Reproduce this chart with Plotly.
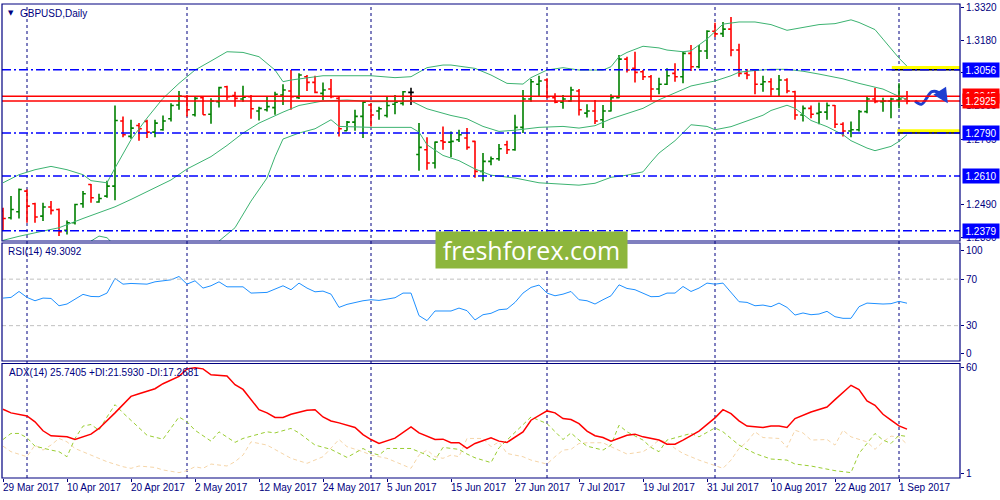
import pandas as pd
import plotly.graph_objects as go

# trading days shown on the chart (one bar per weekday)
dates = pd.bdate_range("2017-03-29", "2017-09-04")
bars = list(range(len(dates)))

opens = [1.2462, 1.2434, 1.2459, 1.2546, 1.2493, 1.2441, 1.2479, 1.2469, 1.2381, 1.2413,
         1.2493, 1.2574, 1.2500, 1.2525, 1.2567, 1.2841, 1.2776, 1.2822, 1.2839, 1.2794,
         1.2804, 1.2850, 1.2908, 1.2943, 1.2867, 1.2939, 1.2869, 1.2922, 1.2985, 1.2948,
         1.2933, 1.2943, 1.2883, 1.2888, 1.2897, 1.2950, 1.2967, 1.2939, 1.3027, 1.3003,
         1.2957, 1.2975, 1.2936, 1.2800, 1.2836, 1.2860, 1.2908, 1.2883, 1.2864, 1.2911,
         1.2915, 1.2961, 1.2700, 1.2720, 1.2664, 1.2758, 1.2752, 1.2762, 1.2769, 1.2755,
         1.2629, 1.2671, 1.2682, 1.2741, 1.2720, 1.2814, 1.2933, 1.2995, 1.3013, 1.2939,
         1.2920, 1.2925, 1.2967, 1.2874, 1.2883, 1.2846, 1.2883, 1.2939, 1.3101, 1.3062,
         1.3048, 1.3027, 1.2975, 1.2995, 1.3041, 1.3027, 1.3125, 1.3069, 1.3135, 1.3218,
         1.3208, 1.3227, 1.3139, 1.3041, 1.3055, 1.2995, 1.3006, 1.2975, 1.3013, 1.2964,
         1.2866, 1.2894, 1.2873, 1.2878, 1.2906, 1.2827, 1.2799, 1.2804, 1.2880, 1.2933,
         1.2922, 1.2925, 1.2929, 1.2933]
highs = [1.2476, 1.2525, 1.2557, 1.2553, 1.2497, 1.2497, 1.2504, 1.2473, 1.2423, 1.2493,
         1.2546, 1.2576, 1.2535, 1.2590, 1.2906, 1.2860, 1.2846, 1.2832, 1.2846, 1.2846,
         1.2864, 1.2915, 1.2967, 1.2950, 1.2943, 1.2943, 1.2936, 1.2985, 1.2989, 1.2964,
         1.2989, 1.2950, 1.2901, 1.2943, 1.2964, 1.2995, 1.3055, 1.3041, 1.3034, 1.3031,
         1.3003, 1.3017, 1.2943, 1.2841, 1.2888, 1.2922, 1.2915, 1.2901, 1.2943, 1.2950,
         1.2967, 1.2981, 1.2832, 1.2772, 1.2755, 1.2818, 1.2797, 1.2804, 1.2811, 1.2758,
         1.2706, 1.2692, 1.2744, 1.2758, 1.2867, 1.2971, 1.3017, 1.3031, 1.3020, 1.2957,
         1.2950, 1.2985, 1.2975, 1.2911, 1.2929, 1.2908, 1.2953, 1.3118, 1.3111, 1.3132,
         1.3055, 1.3034, 1.3023, 1.3062, 1.3083, 1.3132, 1.3160, 1.3160, 1.3222, 1.3254,
         1.3257, 1.3278, 1.3166, 1.3059, 1.3059, 1.3031, 1.3020, 1.3034, 1.3020, 1.2968,
         1.2906, 1.2906, 1.2919, 1.2919, 1.2908, 1.2836, 1.2839, 1.2887, 1.2943, 1.2981,
         1.2939, 1.2939, 1.2999, 1.2967]
lows = [1.2378, 1.2427, 1.2431, 1.2413, 1.2413, 1.2420, 1.2448, 1.2357, 1.2364, 1.2406,
        1.2476, 1.2497, 1.2497, 1.2518, 1.2508, 1.2772, 1.2766, 1.2758, 1.2769, 1.2772,
        1.2800, 1.2839, 1.2888, 1.2860, 1.2860, 1.2867, 1.2829, 1.2897, 1.2929, 1.2901,
        1.2922, 1.2850, 1.2843, 1.2881, 1.2867, 1.2908, 1.2888, 1.2933, 1.2967, 1.2957,
        1.2929, 1.2936, 1.2776, 1.2800, 1.2800, 1.2769, 1.2818, 1.2846, 1.2855, 1.2869,
        1.2906, 1.2908, 1.2632, 1.2636, 1.2641, 1.2720, 1.2688, 1.2752, 1.2720, 1.2602,
        1.2588, 1.2655, 1.2674, 1.2702, 1.2716, 1.2790, 1.2922, 1.2943, 1.2936, 1.2915,
        1.2892, 1.2922, 1.2864, 1.2855, 1.2828, 1.2811, 1.2881, 1.2936, 1.3045, 1.3003,
        1.3013, 1.2929, 1.2953, 1.2992, 1.3006, 1.2999, 1.3051, 1.3062, 1.3101, 1.3194,
        1.3194, 1.3113, 1.3027, 1.3016, 1.2953, 1.2964, 1.2947, 1.2943, 1.2957, 1.2846,
        1.2839, 1.2852, 1.2827, 1.2846, 1.2811, 1.2776, 1.2772, 1.2797, 1.2873, 1.2915,
        1.2880, 1.2852, 1.2894, 1.2911]
closes = [1.2431, 1.2469, 1.2553, 1.2483, 1.2437, 1.2479, 1.2465, 1.2375, 1.2413, 1.2490,
          1.2535, 1.2518, 1.2515, 1.2567, 1.2843, 1.2783, 1.2811, 1.2808, 1.2794, 1.2832,
          1.2841, 1.2906, 1.2946, 1.2888, 1.2936, 1.2867, 1.2925, 1.2981, 1.2943, 1.2936,
          1.2941, 1.2892, 1.2894, 1.2901, 1.2953, 1.2971, 1.2943, 1.3034, 1.3003, 1.2961,
          1.2971, 1.2943, 1.2808, 1.2836, 1.2860, 1.2920, 1.2866, 1.2892, 1.2906, 1.2920,
          1.2964, 1.2961, 1.2730, 1.2664, 1.2752, 1.2752, 1.2755, 1.2783, 1.2730, 1.2629,
          1.2671, 1.2682, 1.2724, 1.2720, 1.2814, 1.2933, 1.3006, 1.3009, 1.2943, 1.2920,
          1.2933, 1.2971, 1.2888, 1.2883, 1.2841, 1.2883, 1.2939, 1.3101, 1.3055, 1.3045,
          1.3027, 1.2975, 1.2995, 1.3031, 1.3027, 1.3125, 1.3069, 1.3135, 1.3218, 1.3207,
          1.3227, 1.3139, 1.3041, 1.3034, 1.2995, 1.3006, 1.2975, 1.3013, 1.2967, 1.2866,
          1.2894, 1.2869, 1.2878, 1.2906, 1.2827, 1.2799, 1.2804, 1.2880, 1.2933, 1.2922,
          1.2925, 1.2933, 1.2933, 1.2925]

# Bollinger bands (20)
bb_up_idx = [0, 2, 4, 6, 8, 10, 11, 13, 14, 16, 18, 20, 22, 24, 26, 28, 30, 32, 34, 35, 36, 38, 40,
             43, 46, 49, 51, 53, 55, 56, 59, 61, 63, 65, 66, 68, 70, 72, 75, 76, 77, 78, 80, 82, 83,
             85, 86, 88, 90, 92, 94, 96, 98, 100, 102, 104, 106, 107, 109, 110, 111, 112, 113]
bb_up = [1.2581, 1.2615, 1.2636, 1.2650, 1.2636, 1.2615, 1.2590, 1.2581, 1.2643, 1.2762, 1.2853,
         1.2936, 1.2999, 1.3055, 1.3093, 1.3132, 1.3129, 1.3111, 1.3055, 1.3006, 1.3013, 1.3023,
         1.3031, 1.3031, 1.3031, 1.3023, 1.3027, 1.3065, 1.3076, 1.3076, 1.3062, 1.3034, 1.2999,
         1.2996, 1.3023, 1.3055, 1.3065, 1.3055, 1.3055, 1.3069, 1.3111, 1.3129, 1.3155, 1.3148,
         1.3139, 1.3132, 1.3136, 1.3185, 1.3248, 1.3257, 1.3257, 1.3246, 1.3222, 1.3234, 1.3246,
         1.3250, 1.3266, 1.3255, 1.3225, 1.3185, 1.3145, 1.3105, 1.3071]
bb_mid_idx = [0, 2, 5, 7, 10, 12, 14, 16, 18, 21, 23, 26, 28, 30, 32, 33, 35, 37, 40, 43, 46, 49,
              51, 53, 56, 58, 60, 62, 64, 67, 70, 72, 74, 76, 78, 80, 82, 84, 86, 87, 89, 91, 92,
              94, 96, 98, 100, 102, 105, 107, 109, 110, 112, 113]
bb_mid = [1.2339, 1.2356, 1.2378, 1.2392, 1.2431, 1.2456, 1.2480, 1.2511, 1.2543, 1.2593, 1.2639,
          1.2691, 1.2738, 1.2790, 1.2832, 1.2848, 1.2878, 1.2906, 1.2925, 1.2929, 1.2922, 1.2922,
          1.2925, 1.2892, 1.2864, 1.2850, 1.2818, 1.2797, 1.2802, 1.2814, 1.2818, 1.2811, 1.2821,
          1.2850, 1.2872, 1.2894, 1.2930, 1.2960, 1.2988, 1.2995, 1.3009, 1.3031, 1.3046, 1.3053,
          1.3058, 1.3058, 1.3050, 1.3038, 1.3018, 1.2999, 1.2982, 1.2975, 1.2944, 1.2932]
bb_low_idx = [0, 3, 6, 8, 10, 11, 12, 13, 14, 17, 20, 23, 26, 27, 29, 31, 33, 34, 35, 37, 39, 41,
              42, 46, 51, 52, 53, 55, 57, 59, 61, 64, 67, 70, 72, 74, 76, 78, 80, 81, 82, 84, 85,
              86, 88, 89, 91, 93, 95, 96, 98, 99, 101, 103, 105, 106, 108, 109, 111, 112, 113]
bb_low = [1.2097, 1.2090, 1.2105, 1.2150, 1.2250, 1.2336, 1.2357, 1.2350, 1.2317, 1.2255, 1.2245,
          1.2251, 1.2289, 1.2336, 1.2392, 1.2504, 1.2601, 1.2690, 1.2765, 1.2790, 1.2808, 1.2846,
          1.2818, 1.2814, 1.2814, 1.2794, 1.2741, 1.2696, 1.2674, 1.2639, 1.2613, 1.2601, 1.2581,
          1.2576, 1.2571, 1.2579, 1.2604, 1.2613, 1.2627, 1.2668, 1.2706, 1.2758, 1.2790, 1.2825,
          1.2818, 1.2804, 1.2817, 1.2841, 1.2865, 1.2885, 1.2907, 1.2894, 1.2843, 1.2817, 1.2783,
          1.2758, 1.2727, 1.2716, 1.2734, 1.2755, 1.2783]

# RSI(14)
rsi_idx = [0, 1, 2, 3, 4, 5, 6, 7, 8, 9, 10, 11, 12, 13, 14, 15, 16, 18, 19, 21, 22, 23, 24, 25,
           26, 27, 28, 30, 31, 33, 34, 35, 36, 37, 38, 39, 40, 41, 42, 43, 45, 46, 47, 49, 50, 51,
           52, 53, 54, 56, 57, 58, 59, 60, 61, 62, 63, 64, 65, 66, 67, 68, 69, 70, 71, 72, 73, 74,
           75, 76, 77, 78, 79, 80, 81, 82, 83, 84, 85, 86, 87, 88, 89, 90, 91, 92, 93, 94, 95, 96,
           97, 98, 99, 100, 101, 102, 103, 104, 105, 106, 107, 108, 110, 111, 112, 113]
rsi_val = [53.7, 54.3, 59.4, 54.3, 51.4, 53.7, 53.4, 47.1, 48.6, 52.9, 56.9, 55.1, 54.9, 58.0,
           70.6, 65.7, 66.3, 65.7, 67.7, 69.4, 72.3, 65.7, 68.6, 62.3, 64.3, 67.7, 63.4, 63.4,
           58.0, 58.6, 61.4, 64.3, 60.9, 66.6, 62.3, 59.1, 59.7, 57.1, 45.7, 48.3, 51.4, 52.3,
           51.7, 54.0, 58.0, 58.0, 38.6, 34.3, 42.6, 42.6, 45.1, 42.9, 34.9, 39.4, 40.6, 43.7,
           44.3, 50.0, 58.0, 62.9, 64.9, 58.0, 55.7, 57.1, 59.4, 52.3, 51.4, 48.6, 52.3, 55.7,
           65.1, 62.0, 60.9, 58.0, 54.9, 55.1, 58.0, 58.0, 63.7, 59.4, 62.3, 66.6, 65.7, 66.6,
           58.6, 50.6, 50.0, 47.1, 47.7, 46.3, 49.4, 45.7, 39.1, 40.9, 39.4, 40.0, 42.3, 37.7,
           36.3, 36.3, 46.3, 49.4, 48.6, 48.9, 50.9, 49.3]

# ADX(14), +DI, -DI
adx_idx = [0, 1, 3, 4, 5, 6, 8, 9, 11, 12, 14, 16, 17, 19, 20, 22, 23, 24, 25, 26, 28, 29, 30, 32,
           33, 34, 35, 36, 38, 39, 40, 41, 42, 44, 45, 46, 47, 49, 51, 52, 54, 55, 56, 57, 58, 59,
           61, 62, 63, 65, 66, 68, 69, 70, 71, 72, 73, 74, 75, 76, 78, 79, 80, 82, 83, 84, 85, 87,
           89, 90, 91, 92, 93, 95, 96, 97, 98, 99, 101, 103, 104, 106, 107, 108, 109, 110, 111,
           112, 113]
adx_val = [36.8, 34.8, 33.1, 29.8, 24.8, 22.0, 21.4, 19.9, 22.9, 26.1, 34.8, 44.0, 45.5, 48.3,
           51.1, 55.2, 59.4, 60.0, 59.4, 56.1, 55.4, 50.5, 47.9, 36.6, 34.8, 32.2, 32.2, 34.0,
           36.3, 36.6, 32.5, 30.3, 29.2, 26.6, 22.7, 19.9, 17.7, 20.7, 27.0, 23.6, 19.9, 20.1,
           18.1, 18.1, 14.9, 17.7, 20.9, 19.0, 18.3, 24.2, 30.7, 35.9, 34.8, 31.6, 31.1, 28.8,
           24.6, 22.0, 21.0, 19.0, 22.3, 22.9, 21.4, 19.6, 17.3, 17.3, 19.6, 24.6, 32.0, 36.6,
           34.4, 30.3, 27.4, 26.6, 27.5, 27.4, 26.6, 31.6, 35.3, 38.1, 42.2, 50.2, 47.8, 41.5,
           39.0, 34.0, 30.7, 27.5, 25.7]
pdi_idx = [0, 1, 2, 3, 4, 5, 6, 7, 8, 9, 10, 11, 12, 13, 14, 15, 17, 18, 20, 21, 22, 23, 24, 26,
           27, 29, 30, 33, 34, 36, 37, 39, 41, 43, 45, 46, 47, 48, 51, 53, 54, 55, 57, 58, 59, 61,
           62, 63, 65, 66, 68, 69, 70, 71, 72, 73, 75, 76, 77, 78, 80, 81, 82, 83, 85, 86, 87, 89,
           90, 91, 92, 94, 96, 98, 99, 101, 103, 104, 106, 107, 108, 109, 110, 111, 112, 113]
pdi_val = [19.9, 23.3, 23.3, 20.9, 16.2, 14.9, 14.0, 13.1, 10.3, 20.5, 27.4, 28.3, 25.1, 32.5,
           39.4, 34.8, 26.1, 22.3, 20.1, 26.1, 32.5, 29.8, 25.1, 19.0, 24.2, 18.3, 20.5, 24.2,
           23.6, 26.1, 23.6, 16.8, 14.4, 9.9, 14.9, 12.5, 11.2, 14.9, 14.9, 11.2, 8.4, 15.5, 14.4,
           11.8, 9.7, 7.0, 15.3, 19.6, 27.9, 32.5, 28.8, 24.2, 19.9, 23.6, 19.6, 16.2, 14.0, 16.8,
           27.9, 24.2, 19.6, 15.5, 13.1, 19.6, 22.3, 23.3, 21.4, 26.4, 24.2, 20.5, 16.8, 12.1,
           9.0, 8.4, 6.2, 5.1, 3.2, 2.5, 1.4, 12.1, 17.7, 23.3, 19.6, 17.7, 22.3, 21.6]
mdi_idx = [0, 1, 3, 4, 5, 6, 7, 8, 9, 11, 13, 15, 16, 17, 19, 20, 22, 23, 24, 25, 26, 28, 29, 30,
           31, 33, 35, 36, 38, 39, 40, 42, 43, 45, 46, 48, 50, 51, 52, 53, 54, 55, 56, 57, 58, 60,
           61, 62, 63, 65, 66, 68, 69, 70, 71, 72, 73, 75, 76, 77, 78, 80, 81, 82, 83, 84, 85, 87,
           89, 90, 91, 92, 93, 94, 95, 97, 98, 99, 100, 101, 103, 104, 105, 106, 108, 109, 110,
           111, 112, 113]
mdi_val = [16.2, 13.1, 10.3, 16.8, 14.0, 16.8, 20.5, 18.6, 14.9, 11.2, 7.5, 4.7, 3.8, 5.1, 4.3,
           2.9, 1.4, 2.5, 4.7, 3.8, 6.2, 5.1, 7.5, 11.2, 18.6, 16.8, 12.1, 9.4, 6.6, 8.4, 10.3,
           19.9, 15.9, 13.1, 11.2, 9.4, 5.6, 3.8, 11.2, 14.0, 10.3, 9.4, 11.2, 10.3, 20.5, 20.5,
           15.9, 18.6, 12.1, 10.3, 8.4, 6.2, 10.3, 14.0, 14.4, 17.7, 18.1, 18.1, 15.9, 14.0, 11.8,
           13.1, 15.9, 19.6, 18.6, 14.9, 12.1, 8.4, 5.6, 3.8, 8.4, 14.9, 18.6, 24.2, 21.0, 20.5,
           15.5, 25.1, 23.6, 19.6, 19.9, 16.8, 25.1, 21.4, 18.6, 14.4, 18.6, 21.8, 21.4, 17.3]

# horizontal levels drawn on the chart
blue_levels = [1.3056, 1.2790, 1.2610, 1.2379]
red_levels = [1.2945, 1.2925]
yellow_levels = [1.3056, 1.2790]
yellow_start = [111.1, 111.8]
price_ticks = [1.3320, 1.3180, 1.3045, 1.2905, 1.2765, 1.2490, 1.2350]

# hand drawn forecast arrow
arrow_x = [114.0, 114.8, 116.1, 116.9, 117.7]
arrow_y = [1.2925, 1.2911, 1.2964, 1.2961, 1.2928]

NAVY = "#000080"
FONT = "Liberation Sans"
XMAX = 119.625

fig = go.Figure()

normal = [i for i in bars if opens[i] != closes[i]]
doji = [i for i in bars if opens[i] == closes[i]]
fig.add_trace(go.Ohlc(
    x=normal, open=[opens[i] for i in normal], high=[highs[i] for i in normal],
    low=[lows[i] for i in normal], close=[closes[i] for i in normal],
    increasing_line_color="#008000", decreasing_line_color="#FF0000",
    line_width=1.6, tickwidth=0.35, hoverinfo="skip"))
fig.add_trace(go.Ohlc(
    x=doji, open=[opens[i] for i in doji], high=[highs[i] for i in doji],
    low=[lows[i] for i in doji], close=[closes[i] for i in doji],
    increasing_line_color="black", decreasing_line_color="black",
    line_width=1.6, tickwidth=0.35, hoverinfo="skip"))

for xs, ys in [(bb_up_idx, bb_up), (bb_mid_idx, bb_mid), (bb_low_idx, bb_low)]:
    fig.add_trace(go.Scatter(x=xs, y=ys, mode="lines", line=dict(color="#3CB371", width=1)))

fig.add_trace(go.Scatter(x=arrow_x, y=arrow_y, mode="lines",
                         line=dict(color="#1F3FD0", width=3, shape="spline")))

fig.add_trace(go.Scatter(x=rsi_idx, y=rsi_val, yaxis="y2", mode="lines",
                         line=dict(color="#1E90FF", width=1)))

fig.add_trace(go.Scatter(x=mdi_idx, y=mdi_val, yaxis="y3", mode="lines",
                         line=dict(color="#F5D5A8", width=1, dash="4px,3px")))
fig.add_trace(go.Scatter(x=pdi_idx, y=pdi_val, yaxis="y3", mode="lines",
                         line=dict(color="#9ACD32", width=1, dash="4px,3px")))
fig.add_trace(go.Scatter(x=adx_idx, y=adx_val, yaxis="y3", mode="lines",
                         line=dict(color="#FF0000", width=1.5)))

shapes = []
# month separators
month_starts = [i for i in bars[1:] if dates[i].month != dates[i - 1].month]
for i in month_starts:
    shapes.append(dict(type="line", xref="x", yref="paper", x0=i, x1=i, y0=0, y1=1,
                       line=dict(color=NAVY, width=1, dash="3px,3px"), layer="below"))
for lv, xs in zip(yellow_levels, yellow_start):
    shapes.append(dict(type="rect", xref="x", yref="y", x0=xs, x1=XMAX, y0=lv, y1=lv + 0.0016,
                       fillcolor="#FFFF00", line=dict(width=0)))
    shapes.append(dict(type="line", xref="x", yref="y", x0=xs, x1=XMAX, y0=lv, y1=lv,
                       line=dict(color="black", width=1.5)))
for lv in blue_levels:
    shapes.append(dict(type="line", xref="x domain", yref="y", x0=0, x1=1, y0=lv, y1=lv,
                       line=dict(color="#0000FF", width=1.5, dash="9px,3px,2px,3px")))
for lv in red_levels:
    shapes.append(dict(type="line", xref="x domain", yref="y", x0=0, x1=1, y0=lv, y1=lv,
                       line=dict(color="#FF0000", width=1.5)))
for lv in [70, 30]:
    shapes.append(dict(type="line", xref="x domain", yref="y2", x0=0, x1=1, y0=lv, y1=lv,
                       line=dict(color="#C0C0C0", width=1, dash="4px,3px")))
# panel frames
for ax in ["y", "y2", "y3"]:
    shapes.append(dict(type="rect", xref="paper", yref=ax + " domain", x0=0, x1=1, y0=0, y1=1,
                       line=dict(color=NAVY, width=1.2)))

ann = []
ann.append(dict(text="▼", x=0.004, y=0.981, xref="paper", yref="paper", showarrow=False,
                xanchor="left", yanchor="middle", font=dict(family="DejaVu Sans", size=7, color=NAVY)))
ann.append(dict(text="GBPUSD,Daily", x=0.017, y=0.981, xref="paper", yref="paper", showarrow=False,
                xanchor="left", yanchor="middle", font=dict(family=FONT, size=10, color=NAVY)))
ann.append(dict(text="RSI(14) 49.3092", x=0.004, y=0.477, xref="paper", yref="paper",
                showarrow=False, xanchor="left", yanchor="middle",
                font=dict(family=FONT, size=10, color=NAVY)))
ann.append(dict(text="ADX(14) 25.7405 +DI:21.5930 -DI:17.2681", x=0.005, y=0.2227, xref="paper",
                yref="paper", showarrow=False, xanchor="left", yanchor="middle",
                font=dict(family=FONT, size=10, color=NAVY)))
ann.append(dict(text="freshforex.com", x=0.5527, y=0.480, xref="paper", yref="paper",
                showarrow=False, xanchor="center", yanchor="middle", bgcolor="#8DB63C",
                width=189, height=34, font=dict(family="Open Sans", size=25, color="white")))

# right side price boxes
boxes = [(1.3056, "#0000FF"), (1.2945, "#FF0000"), (1.2925, "#FF0000"),
         (1.2790, "#0000FF"), (1.2610, "#0000FF"), (1.2379, "#0000FF")]
for lv, col in boxes:
    ann.append(dict(text=f"{lv:.4f}", x=1.0021, y=lv, xref="paper", yref="y", showarrow=False,
                    xanchor="left", yanchor="middle", bgcolor=col, width=34, height=12,
                    borderpad=1, font=dict(family=FONT, size=10, color="white")))

# date labels
for i in bars[::8]:
    d = dates[i]
    ann.append(dict(text=f"{d.day} {d.strftime('%b %Y')}", x=i, y=-0.021, xref="x",
                    yref="paper", showarrow=False, xanchor="left", yanchor="middle", xshift=-2,
                    font=dict(family=FONT, size=10, color=NAVY)))

# arrow head of the forecast curve
ann.append(dict(x=118.1, y=1.2915, ax=arrow_x[-1], ay=arrow_y[-1] + 0.0008, xref="x", yref="y",
                axref="x", ayref="y", showarrow=True, arrowhead=2, arrowsize=1, arrowwidth=3,
                arrowcolor="#1F3FD0", text=""))

axis_font = dict(family=FONT, size=10, color=NAVY)
fig.update_layout(
    width=1000, height=500,
    margin=dict(l=2, r=40, t=2, b=22),
    paper_bgcolor="white", plot_bgcolor="white",
    showlegend=False,
    xaxis=dict(domain=[0, 1], range=[-0.125, XMAX], anchor="y3", showgrid=False, zeroline=False,
               showline=False, tickvals=bars[::8], showticklabels=False, ticks="outside",
               ticklen=3, tickcolor=NAVY, rangeslider=dict(visible=False)),
    yaxis=dict(domain=[0.5, 1], range=[1.23363, 1.33326], side="right", anchor="x",
               showgrid=False, zeroline=False, tickvals=price_ticks,
               ticktext=[f"{t:.4f}" for t in price_ticks], ticks="outside", ticklen=3,
               tickcolor=NAVY, tickfont=axis_font, ticklabeloverflow="allow"),
    yaxis2=dict(domain=[0.2468, 0.4958], range=[-0.43, 101.1], side="right", anchor="x",
                showgrid=False, zeroline=False, tickvals=[95, 70, 30, 6],
                ticktext=["100", "70", "30", "0"], ticks="outside", ticklen=3,
                tickcolor=NAVY, tickfont=axis_font),
    yaxis3=dict(domain=[0, 0.2416], range=[-1.6, 62.4], side="right", anchor="x",
                showgrid=False, zeroline=False, tickvals=[60, 1], ticktext=["60", "1"],
                ticks="outside", ticklen=3, tickcolor=NAVY, tickfont=axis_font),
    shapes=shapes,
    annotations=ann,
)

# the page's default body margin would push the chart 8px off the window
fig.write_html("out.html", config={"displayModeBar": False},
               post_script="document.body.style.margin = '0';")
